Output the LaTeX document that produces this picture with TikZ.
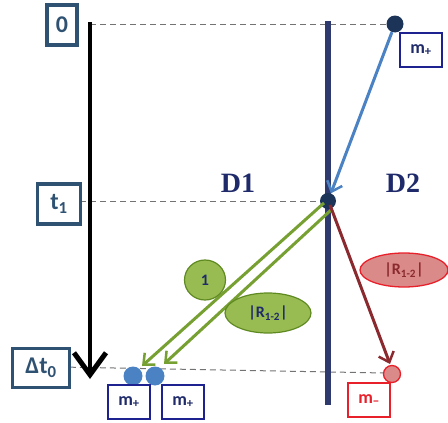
\documentclass[tikz,border=0pt]{standalone}
\usepackage{fontspec}
\setmainfont{Carlito}
\newfontfamily\serifD{Liberation Serif}
\usetikzlibrary{arrows.meta,shapes.geometric}
\definecolor{slate}{HTML}{2F5272}
\definecolor{navybox}{HTML}{1E2290}
\definecolor{navytxt}{HTML}{1F2A6A}
\definecolor{barrier}{HTML}{2E3A6E}
\definecolor{dotnavy}{HTML}{1B3457}
\definecolor{blueln}{HTML}{4A82C4}
\definecolor{greenln}{HTML}{77A032}
\definecolor{greenfill}{HTML}{98BC52}
\definecolor{greendraw}{HTML}{5F8A22}
\definecolor{redln}{HTML}{8B2A2E}
\definecolor{redfill}{HTML}{DB8A8A}
\definecolor{redbox}{HTML}{E8202A}
\tikzset{
  timebox/.style={draw=slate, line width=3.2pt, text=slate, font=\bfseries\fontsize{24}{26}\selectfont, inner sep=0pt, minimum height=38pt, fill=white},
  mbox/.style={draw=navybox, line width=1.6pt, text=navytxt, font=\bfseries\fontsize{18}{19}\selectfont, inner sep=0pt, minimum width=42pt, minimum height=34pt},
  dashln/.style={draw=gray!90!black, dashed, dash pattern=on 6pt off 4pt, line width=1pt},
  dlabel/.style={text=navytxt, font=\serifD\bfseries\fontsize{28}{30}\selectfont},
  gell/.style={ellipse, draw=greendraw, line width=1.2pt, fill=greenfill, text=navytxt, font=\bfseries\fontsize{16}{17}\selectfont, inner sep=0pt},
  barb/.style={-{Straight Barb[length=9pt,width=16pt,line width=2.5pt]}},
}
\begin{document}
\begin{tikzpicture}[x=1pt,y=-1pt]
\useasboundingbox (0,0) rectangle (448,423);
% dashed time lines
\coordinate (d0a) at (90,24);
\coordinate (d0b) at (395,24);
\coordinate (d1a) at (80,201);
\coordinate (d1b) at (328,201);
\coordinate (d2a) at (60,367);
\coordinate (d2b) at (385,373);
\draw[dashln] (d0a) -- (d0b);
\draw[dashln] (d1a) -- (d1b);
\draw[dashln] (d2a) -- (d2b);
% time boxes
\node[timebox, minimum width=30pt, minimum height=40pt] (b0) at (62,25) {0};
\node[timebox, minimum width=43pt, minimum height=40pt] (bt1) at (59,204) {t\textsubscript{1}};
\node[timebox, minimum width=57pt, minimum height=39pt] (bdt) at (41,368) {Δt\textsubscript{0}};
% time axis
\coordinate (ax0) at (90,22);
\coordinate (ax1) at (90,379);
\draw[line width=4.5pt, -{Straight Barb[length=22pt,width=32pt,line width=5pt]}] (ax0) -- (ax1);
% barrier
\coordinate (br0) at (328,21);
\coordinate (br1) at (328,405);
\draw[barrier, line width=6pt] (br0) -- (br1);
% labels
\node[dlabel] (D1) at (238,183) {D1};
\node[dlabel] (D2) at (403,183) {D2};
% incoming
\node[circle, fill=dotnavy, minimum size=17pt, inner sep=0pt] (src) at (395,24) {};
\node[circle, fill=dotnavy, minimum size=16pt, inner sep=0pt] (hit) at (328,201) {};
\draw[blueln, line width=3pt, barb] (src) -- (hit);
\node[mbox] (mtop) at (421,50) {m\textsubscript{+}};
% outgoing green
\node[circle, fill=blueln, minimum size=19pt, inner sep=0pt] (p1) at (133,376) {};
\node[circle, fill=blueln, minimum size=19pt, inner sep=0pt] (p2) at (155,376) {};
\coordinate (g1s) at (324,203);
\coordinate (g1e) at (142,366);
\coordinate (g2s) at (331,210);
\coordinate (g2e) at (164,364);
\draw[greenln, line width=3pt, barb] (g1s) -- (g1e);
\draw[greenln, line width=3pt, barb] (g2s) -- (g2e);
\node[gell, minimum width=41pt, minimum height=40pt] (one) at (205,280) {1};
\node[gell, minimum width=86pt, minimum height=40pt] (r12) at (268,313) {|R\textsubscript{1-2}|};
% outgoing red
\node[circle, draw=redbox, line width=1.3pt, fill=redfill, minimum size=17pt, inner sep=0pt] (pm) at (392,374) {};
\coordinate (rs) at (330,205);
\coordinate (re) at (390,364);
\draw[redln, line width=3pt, barb] (rs) -- (re);
\node[ellipse, draw=redbox, line width=1.3pt, fill=redfill, text=redln, font=\bfseries\fontsize{16}{17}\selectfont, inner sep=0pt, minimum width=88pt, minimum height=34pt] (r12b) at (404,270) {|R\textsubscript{1-2}|};
% bottom boxes
\node[mbox] (mb1) at (129,402) {m\textsubscript{+}};
\node[mbox] (mb2) at (183,402) {m\textsubscript{+}};
\node[mbox, draw=redbox, text=redbox] (mb3) at (369,400) {m\textsubscript{\textminus}};
\end{tikzpicture}
\end{document}
